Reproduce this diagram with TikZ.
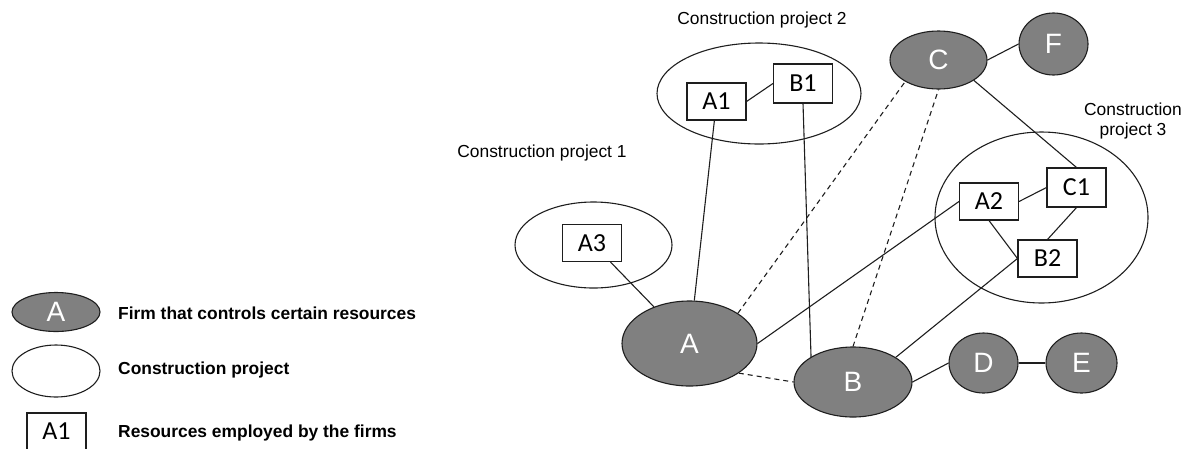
\documentclass[tikz,border=0pt]{standalone}
\usepackage{fontspec}
\setmainfont{Liberation Sans}
\newfontfamily\boxfont{Carlito}
\usetikzlibrary{shapes.geometric}
\definecolor{firmgray}{RGB}{128,128,128}
\definecolor{edgecol}{RGB}{30,30,30}
\tikzset{
  firm/.style={ellipse, draw=edgecol, line width=1.1pt, fill=firmgray, inner sep=0pt,
    text=white, font=\fontsize{28}{30}\selectfont},
  project/.style={ellipse, draw=edgecol, line width=1.1pt, inner sep=0pt},
  resource/.style={rectangle, draw=edgecol, line width=1.1pt, fill=white, inner sep=0pt,
    minimum width=59pt, minimum height=37pt, font=\boxfont\fontsize{26}{28}\selectfont},
  caption/.style={font=\fontsize{17.4}{20}\selectfont, align=center, inner sep=0pt},
  legendtext/.style={font=\bfseries\fontsize{17.4}{20}\selectfont, anchor=west, inner sep=0pt},
  link/.style={draw=edgecol, line width=1.1pt},
  weak/.style={draw=edgecol, line width=1.1pt, dash pattern=on 5pt off 4pt},
}
\begin{document}
\begin{tikzpicture}[x=1pt, y=-1pt]
\useasboundingbox (0,0) rectangle (1190,448);
\clip (0,0) rectangle (1190,448);

% construction projects
\node[project, minimum width=157pt, minimum height=86pt] (P1) at (593.5,245) {};
\node[project, minimum width=204pt, minimum height=101pt] (P2) at (759,93.5) {};
\node[project, minimum width=213pt, minimum height=171pt] (P3) at (1041.5,217.5) {};

\node[caption] (L1) at (542,153) {Construction project 1};
\node[caption] (L2) at (762,20) {Construction project 2};
\node[caption] (L3) at (1133,121) {Construction\\project 3};

% resources
\node[resource] (A3) at (592,243) {A3};
\node[resource] (A1) at (716.5,101.5) {A1};
\node[resource, minimum height=39pt] (B1) at (803,83.5) {B1};
\node[resource] (A2) at (989,201.5) {A2};
\node[resource, minimum height=39pt] (C1) at (1076.5,187.5) {C1};
\node[resource] (B2) at (1047.5,258.5) {B2};

% firms
\node[firm, minimum width=135pt, minimum height=85pt] (A) at (689.5,343.5) {A};
\node[firm, minimum width=118pt, minimum height=70pt] (B) at (853,382) {B};
\node[firm, minimum width=97pt, minimum height=58pt] (C) at (938.5,60) {C};
\node[firm, minimum width=69pt, minimum height=60pt] (D) at (983.5,363) {D};
\node[firm, minimum width=71pt, minimum height=60pt] (E) at (1081.5,363) {E};
\node[firm, minimum width=69pt, minimum height=62pt] (F) at (1053.5,44) {F};

% solid links
\draw[link] (A3) -- (A);
\draw[link] (A1) -- (A);
\draw[link] (A1.east) -- (B1.west);
\draw[link] (B1.south) -- (B.149);
\draw[link] (A.east) -- (A2.west);
\draw[link] (A2.east) -- (C1.west);
\draw[link] (A2.south) -- (B2.west);
\draw[link] (C1.south) -- (B2.north);
\draw[link] (C.-30) -- (C1.north);
\draw[link] (C.east) -- (F.west);
\draw[link] (B.east) -- (D.west);
\draw[link] (D.east) -- (E.west);
\draw[link] (B.30) -- (B2.west);

% dashed links
\draw[weak] (A.32) -- (C.213);
\draw[weak] (B.north) -- (C.south);
\draw[weak] (A.-31) -- (B.west);

% legend
\node[firm, minimum width=88pt, minimum height=39pt] (LA) at (56,312) {A};
\node[project, minimum width=88pt, minimum height=52pt] (LP) at (56,371) {};
\node[resource] (LR) at (56.5,431.5) {A1};
\node[legendtext] (T1) at (118,313) {Firm that controls certain resources};
\node[legendtext] (T2) at (118,370) {Construction project};
\node[legendtext] (T3) at (118,433) {Resources employed by the firms};
\end{tikzpicture}
\end{document}
